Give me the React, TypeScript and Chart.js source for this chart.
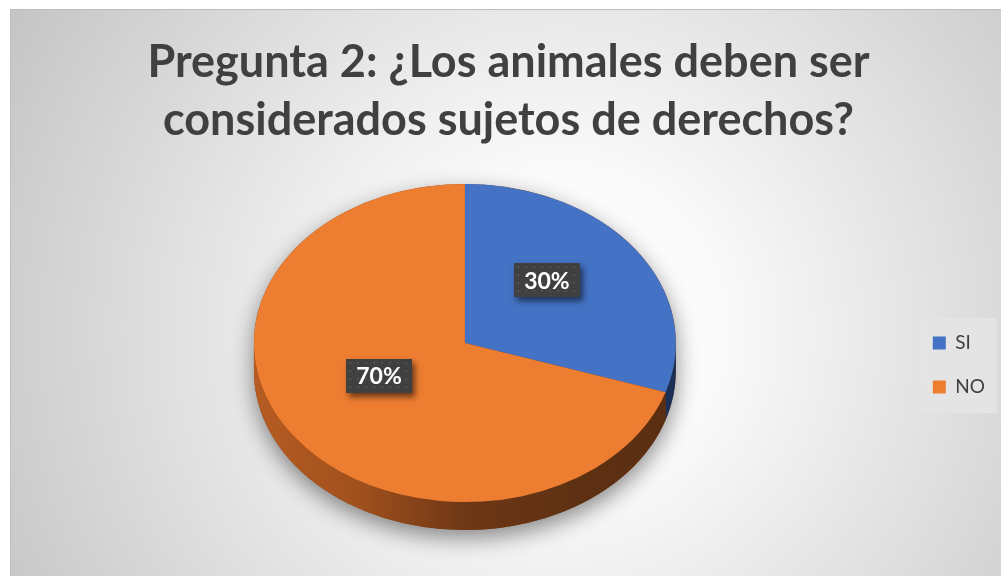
import React, { useEffect, useRef } from "react";
import { Chart, registerables } from "chart.js";

Chart.register(...registerables);

// ---- data ----
const categories = ["SI", "NO"];
const percentages = [30, 70];
const titleLines = ["Pregunta 2: ¿Los animales deben ser", "considerados sujetos de derechos?"];

// ---- styles ----
const sliceColors = ["#4472C4", "#ED7D31"];
const sideStops = [
  ["#2f5597", "#28487f", "#203864", "#1d335b", "#1b3056"],
  ["#b65c22", "#a0501d", "#6e3716", "#5f3113", "#5a2e11"],
];
const TILT = 0.754; // vertical squash of the pie (3D tilt)
const DEPTH = 28; // thickness of the pie side
const LIFT = 22; // how far the top face sits above the layout centre
const labelPlacement = [
  { angle: -45.5, frac: 0.555 },
  { angle: 153, frac: 0.457 },
];

function ellipsePathSide(ctx: CanvasRenderingContext2D, cx: number, cy: number, rx: number, ry: number, a1: number, a2: number) {
  ctx.beginPath();
  ctx.ellipse(cx, cy, rx, ry, 0, a1, a2, false);
  ctx.ellipse(cx, cy + DEPTH, rx, ry, 0, a2, a1, true);
  ctx.closePath();
}

function drawLabel(ctx: CanvasRenderingContext2D, text: string, x: number, y: number) {
  ctx.save();
  ctx.font = "bold 23px Lato";
  const w = Math.round(ctx.measureText(text).width + 20);
  const h = 34;
  const lx = Math.round(x - w / 2);
  const ly = Math.round(y - h / 2);
  ctx.save();
  ctx.shadowColor = "rgba(0,0,0,0.55)";
  ctx.shadowBlur = 6;
  ctx.shadowOffsetX = 3;
  ctx.shadowOffsetY = 4;
  ctx.fillStyle = "#404040";
  ctx.fillRect(lx, ly, w, h);
  ctx.restore();
  ctx.save();
  ctx.beginPath();
  ctx.rect(lx, ly, w, h);
  ctx.clip();
  ctx.fillStyle = "rgba(255,255,255,0.08)";
  for (let px = lx + 3; px < lx + w; px += 8) {
    for (let py = ly + 3; py < ly + h; py += 8) {
      ctx.fillRect(px, py, 2, 2);
    }
  }
  ctx.restore();
  ctx.fillStyle = "#ffffff";
  ctx.textAlign = "center";
  ctx.textBaseline = "middle";
  ctx.fillText(text, x, y + 1);
  ctx.restore();
}

const pie3dPlugin = {
  id: "pie3d",
  beforeDraw(chart: any) {
    const ctx: CanvasRenderingContext2D = chart.ctx;
    const W = chart.width;
    const H = chart.height;
    ctx.save();
    ctx.fillStyle = "#ffffff";
    ctx.fillRect(0, 0, W, H);
    const g = ctx.createRadialGradient(560, 330, 0, 560, 330, 640);
    g.addColorStop(0, "#ffffff");
    g.addColorStop(0.25, "#fafafa");
    g.addColorStop(1, "#c4c4c4");
    ctx.fillStyle = g;
    ctx.fillRect(10, 9, W - 10, H - 9);
    ctx.strokeStyle = "#bdbdbd";
    ctx.lineWidth = 1;
    ctx.beginPath();
    ctx.moveTo(10.5, H);
    ctx.lineTo(10.5, 9.5);
    ctx.lineTo(W, 9.5);
    ctx.stroke();
    // legend background
    const lg = chart.legend;
    if (lg && lg.legendHitBoxes && lg.legendHitBoxes.length) {
      const hb = lg.legendHitBoxes;
      let l = Infinity, t = Infinity, r = -Infinity, b = -Infinity;
      hb.forEach((h: any) => {
        l = Math.min(l, h.left);
        t = Math.min(t, h.top);
        r = Math.max(r, h.left + h.width);
        b = Math.max(b, h.top + h.height);
      });
      ctx.fillStyle = "rgba(228,228,228,0.9)";
      ctx.fillRect(Math.round(l - 12), Math.round(t - 16), Math.round(r - l + 24), Math.round(b - t + 32));
    }
    ctx.restore();
  },
  beforeDatasetsDraw(chart: any) {
    const ctx: CanvasRenderingContext2D = chart.ctx;
    const meta = chart.getDatasetMeta(0);
    const arcs = meta.data;
    if (!arcs.length) return;
    const a0 = arcs[0];
    const cx = a0.x;
    const cy = a0.y - LIFT;
    const R = a0.outerRadius;
    const ry = R * TILT;
    // soft shadow under the pie
    ctx.save();
    ctx.shadowColor = "rgba(0,0,0,0.45)";
    ctx.shadowBlur = 22;
    ctx.shadowOffsetY = 8;
    ctx.fillStyle = "#7a3c16";
    ctx.beginPath();
    ctx.ellipse(cx, cy, R, ry, 0, Math.PI, 2 * Math.PI, false);
    ctx.ellipse(cx, cy + DEPTH, R, ry, 0, 0, Math.PI, false);
    ctx.closePath();
    ctx.fill();
    ctx.restore();
    // sides of the slices (front half only)
    arcs.forEach((arc: any, i: number) => {
      const s = arc.startAngle;
      const e = arc.endAngle;
      const grad = ctx.createLinearGradient(cx - R, 0, cx + R, 0);
      const st = sideStops[i % sideStops.length];
      st.forEach((c, k) => grad.addColorStop(k / (st.length - 1), c));
      [0, 2 * Math.PI].forEach((base) => {
        const a1 = Math.max(s, base);
        const a2 = Math.min(e, base + Math.PI);
        if (a2 > a1) {
          ctx.save();
          ctx.fillStyle = grad;
          ellipsePathSide(ctx, cx, cy, R, ry, a1, a2);
          ctx.fill();
          ctx.restore();
        }
      });
    });
    // squash the top face into an ellipse
    ctx.save();
    ctx.translate(cx, cy);
    ctx.scale(1, TILT);
    ctx.translate(-a0.x, -a0.y);
  },
  afterDatasetsDraw(chart: any) {
    const ctx: CanvasRenderingContext2D = chart.ctx;
    ctx.restore();
    const meta = chart.getDatasetMeta(0);
    const arcs = meta.data;
    if (!arcs.length) return;
    const a0 = arcs[0];
    const cx = a0.x;
    const cy = a0.y - LIFT;
    const R = a0.outerRadius;
    const ry = R * TILT;
    arcs.forEach((arc: any, i: number) => {
      const p = labelPlacement[i];
      const t = (p.angle * Math.PI) / 180;
      const x = cx + R * p.frac * Math.cos(t);
      const y = cy + ry * p.frac * Math.sin(t);
      drawLabel(ctx, `${percentages[i]}%`, x, y);
    });
  },
};

export default function App() {
  const ref = useRef<HTMLCanvasElement | null>(null);
  useEffect(() => {
    if (!ref.current) return;
    const chart = new Chart(ref.current, {
      type: "pie",
      data: {
        labels: categories,
        datasets: [
          {
            data: percentages,
            backgroundColor: sliceColors,
            borderWidth: 0,
            clip: false as any,
          },
        ],
      },
      options: {
        responsive: false,
        animation: false,
        events: [],
        layout: { padding: { left: 22, right: 6, top: 0, bottom: 0 } },
        plugins: {
          title: {
            display: true,
            text: titleLines,
            color: "#404040",
            font: { family: "Lato", size: 45, weight: "bold", lineHeight: 1.29 },
            padding: { top: 33, bottom: 5 },
          },
          legend: {
            display: true,
            position: "right",
            fullSize: false,
            labels: {
              color: "#404040",
              font: { family: "Lato", size: 19 },
              boxWidth: 13,
              boxHeight: 13,
              padding: 25,
            },
          },
          tooltip: { enabled: false },
        },
      },
      plugins: [pie3dPlugin],
    });
    return () => chart.destroy();
  }, []);
  return (
    <div style={{ position: "fixed", left: 0, top: 0, width: 1001, height: 576 }}>
      <canvas ref={ref} width={1001} height={576} />
    </div>
  );
}
